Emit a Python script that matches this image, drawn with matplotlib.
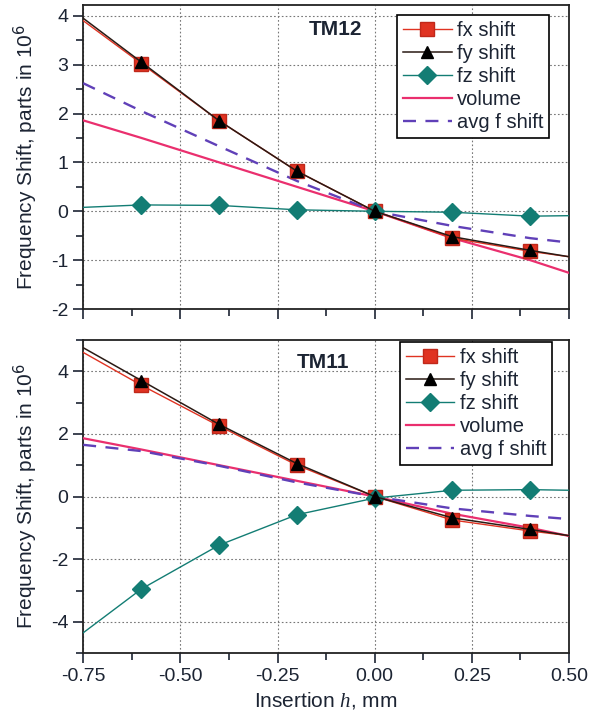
import numpy as np
import matplotlib.pyplot as plt
from matplotlib.ticker import MultipleLocator

plt.rcParams['font.family'] = ['Liberation Sans', 'DejaVu Sans']
plt.rcParams['axes.unicode_minus'] = False
plt.rcParams['mathtext.fontset'] = 'custom'
plt.rcParams['mathtext.it'] = 'Liberation Serif:italic'

# insertion depth h (mm); fits run to the axis ends, markers only at measured points
h = [-0.75, -0.6, -0.4, -0.2, 0.0, 0.2, 0.4, 0.5]

# TM12 mode shifts, parts in 1e6
tm12_fx = [3.90, 3.02, 1.85, 0.82, 0.0, -0.55, -0.82, -0.93]
tm12_fy = [3.95, 3.05, 1.85, 0.82, 0.0, -0.52, -0.80, -0.93]
tm12_fz = [0.08, 0.13, 0.12, 0.03, 0.0, -0.02, -0.10, -0.09]
tm12_avg = [2.62, 2.05, 1.33, 0.62, 0.0, -0.30, -0.55, -0.64]

# TM11 mode shifts, parts in 1e6
tm11_fx = [4.60, 3.55, 2.25, 1.00, 0.0, -0.75, -1.10, -1.25]
tm11_fy = [4.75, 3.70, 2.30, 1.05, 0.0, -0.68, -1.05, -1.25]
tm11_fz = [-4.35, -2.95, -1.55, -0.58, -0.05, 0.20, 0.22, 0.20]
tm11_avg = [1.65, 1.45, 0.98, 0.45, 0.0, -0.38, -0.62, -0.72]

# volume change, same for both modes
volume = [1.86, 1.50, 1.00, 0.50, 0.0, -0.55, -1.00, -1.26]

xticks = [-0.75, -0.5, -0.25, 0.0, 0.25, 0.5]
xticklabels = ['-0.75', '-0.50', '-0.25', '0.00', '0.25', '0.50']

TXT = '#1c2433'
RED = '#e03322'
TEAL = '#137d74'
PINK = '#ea2f6e'
PURPLE = '#6040b8'


def draw_panel(ax, fx, fy, fz, avg, title, title_xy, ylim, major, minor, leg_anchor):
    mk = list(range(1, len(h) - 1))
    ax.plot(h, fx, color=RED, lw=1.0, marker='s', ms=10, mfc=RED,
            mec='#c0281a', markevery=mk, label='fx shift', zorder=4)
    ax.plot(h, fy, color='#2a1a14', lw=1.1, marker='^', ms=8, mfc='black',
            mec='black', markevery=mk, label='fy shift', zorder=5)
    ax.plot(h, fz, color=TEAL, lw=1.0, marker='D', ms=9, mfc=TEAL,
            mec=TEAL, markevery=mk, label='fz shift', zorder=4)
    ax.plot(h, volume, color=PINK, lw=1.6, label='volume', zorder=3)
    ax.plot(h, avg, color=PURPLE, lw=1.7, ls=(0, (5.5, 4)), label='avg f shift', zorder=3)

    ax.set_xlim(-0.75, 0.5)
    ax.set_ylim(*ylim)
    ax.set_xticks(xticks)
    ax.xaxis.set_minor_locator(MultipleLocator(0.125))
    ax.yaxis.set_major_locator(MultipleLocator(major))
    ax.yaxis.set_minor_locator(MultipleLocator(minor))
    ax.grid(True, which='major', color='#777777', ls=(0, (1.5, 2)), lw=0.8)
    ax.tick_params(which='major', length=7, width=1.2, colors=TXT, labelsize=14)
    ax.tick_params(which='minor', length=5, width=1.2, colors=TXT)
    for sp in ax.spines.values():
        sp.set_linewidth(1.3)
        sp.set_color('#222222')
    ax.set_ylabel('Frequency Shift, parts in 10$^6$', fontsize=15, color=TXT, labelpad=9)
    ax.text(title_xy[0], title_xy[1], title, transform=ax.transAxes, ha='center',
            va='center', fontsize=15, fontweight='bold', color=TXT)
    leg = ax.legend(loc='upper right', bbox_to_anchor=leg_anchor, borderaxespad=0,
                    fontsize=14.5, handlelength=2.4, handletextpad=0.25,
                    labelspacing=0.2, borderpad=0.3, fancybox=False,
                    framealpha=1, edgecolor='black')
    leg.get_frame().set_linewidth(1.2)
    for t in leg.get_texts():
        t.set_color(TXT)


fig = plt.figure(figsize=(5.94, 7.17), dpi=100)
ax1 = fig.add_axes([0.14, 0.569, 0.818, 0.424])
ax2 = fig.add_axes([0.14, 0.089, 0.818, 0.437])

draw_panel(ax1, tm12_fx, tm12_fy, tm12_fz, tm12_avg, 'TM12', (0.519, 0.918),
           (-2, 4.22), 1, 0.5, (0.959, 0.967))
draw_panel(ax2, tm11_fx, tm11_fy, tm11_fz, tm11_avg, 'TM11', (0.494, 0.927),
           (-5, 5), 2, 1, (0.965, 0.994))

ax1.tick_params(labelbottom=False)
ax2.set_xticklabels(xticklabels)
ax2.set_xlabel('Insertion $h$, mm', fontsize=15, color=TXT, labelpad=4)

fig.savefig('out.png', dpi=100)
